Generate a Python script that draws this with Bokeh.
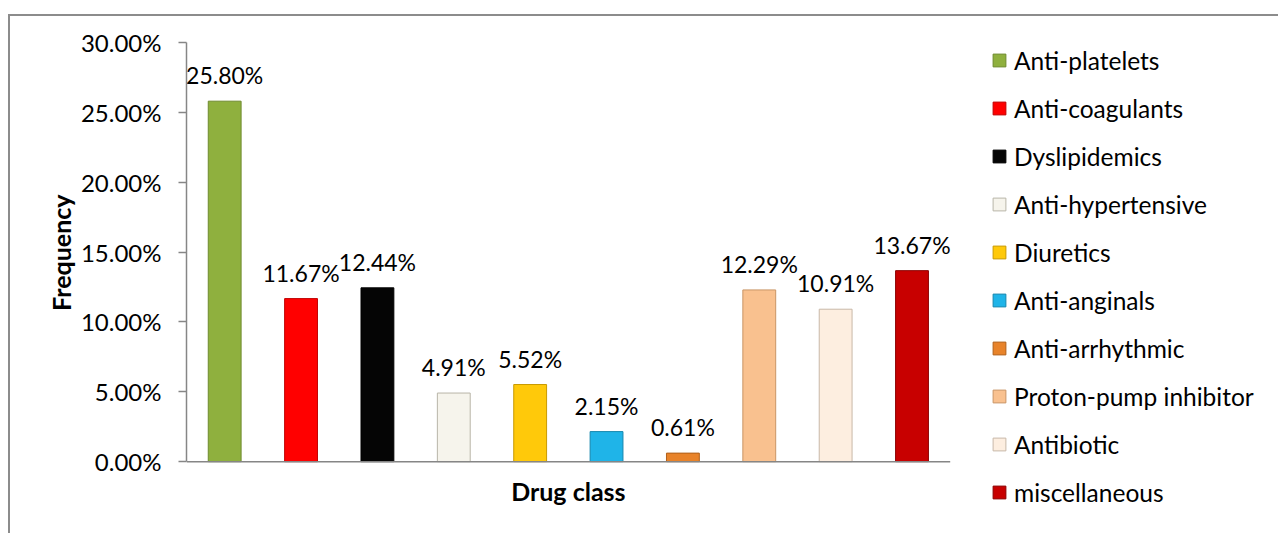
from bokeh.plotting import figure
from bokeh.models import (ColumnDataSource, Range1d, NumeralTickFormatter,
                          FixedTicker, Label, Title)
from bokeh.core.properties import value
from bokeh.embed import file_html
from bokeh.resources import INLINE

categories = ["Anti-platelets", "Anti-coagulants", "Dyslipidemics", "Anti-hypertensive",
              "Diuretics", "Anti-anginals", "Anti-arrhythmic", "Proton-pump inhibitor",
              "Antibiotic", "miscellaneous"]
frequency = [0.2580, 0.1167, 0.1244, 0.0491, 0.0552, 0.0215, 0.0061, 0.1229, 0.1091, 0.1367]
colors = ["#8fb03e", "#ff0000", "#050505", "#f6f4ec", "#ffc90a",
          "#1fb4e8", "#e8832a", "#f9c18f", "#fdeee0", "#c80000"]
line_colors = ["#6e8a2e", "#c00000", "#000000", "#b8b5a8", "#c99a00",
               "#1787ae", "#b0601a", "#c99566", "#c8b8a8", "#8c0000"]
y_ticks = [0.0, 0.05, 0.10, 0.15, 0.20, 0.25, 0.30]

N = len(categories)
xs = list(range(N))
labels = [f"{v*100:.2f}%" for v in frequency]
src = ColumnDataSource(dict(x=xs, cat=categories, val=frequency, color=colors,
                            line=line_colors, label=labels))

FONT = "Lato"
GRAY = "#868686"

# layout constants (pixels)
PITCH = 76.3          # width of one category slot
FRAME_W = 1093        # frame width from the y axis to the right edge

p = figure(width=1270, height=519, output_backend="svg", toolbar_location=None,
           x_range=Range1d(-0.5, -0.5 + FRAME_W / PITCH), y_range=Range1d(-0.05, 0.30),
           min_border_left=176, min_border_right=0, min_border_top=26, min_border_bottom=4)
p.margin = (14, 0, 0, 8)
p.styles = {"border-top": "2px solid #8c8c8c", "border-left": "2px solid #8c8c8c"}
p.outline_line_color = None
p.xgrid.visible = False
p.ygrid.visible = False
p.xaxis.visible = False

p.vbar(x="x", top="val", width=0.43, source=src, fill_color="color",
       line_color="line", line_width=1, legend_field="cat")

p.text(x="x", y="val", text="label", source=src, text_align="center",
       text_baseline="middle", y_offset=-26, text_font=value(FONT),
       text_font_size="23px", text_color="#000000")

# x axis baseline across the category slots
p.segment(x0=[-0.5], x1=[N - 0.5], y0=[0], y1=[0], line_color=GRAY, line_width=1.5)

# y axis
ya = p.yaxis[0]
ya.bounds = (y_ticks[0], y_ticks[-1])
ya.ticker = FixedTicker(ticks=y_ticks)
ya.formatter = NumeralTickFormatter(format="0.00%")
ya.axis_line_color = GRAY
ya.axis_line_width = 1.5
ya.major_tick_line_color = GRAY
ya.major_tick_line_width = 1.5
ya.minor_tick_line_color = None
ya.major_tick_in = 0
ya.major_tick_out = 8
ya.major_label_standoff = 17
ya.major_label_text_font = FONT
ya.major_label_text_font_size = "24px"
ya.major_label_text_color = "#000000"

ytitle = Title(text="Frequency", align="right", offset=152, standoff=3,
               text_font=FONT, text_font_style="bold", text_font_size="25px",
               text_color="#000000")
p.add_layout(ytitle, "left")

p.add_layout(Label(x=(N - 1) / 2, y=0, y_offset=-29, text="Drug class",
                   text_align="center", text_baseline="middle", text_font=FONT,
                   text_font_style="bold", text_font_size="25px", text_color="#000000"))

lg = p.legend[0]
lg.location = (805, 24)
lg.border_line_color = None
lg.background_fill_alpha = 0
lg.padding = 0
lg.margin = 0
lg.spacing = 18
lg.glyph_width = 16
lg.glyph_height = 16
lg.label_height = 30
lg.label_standoff = 7
lg.label_text_font = FONT
lg.label_text_font_size = "24.5px"
lg.label_text_color = "#000000"

open("out.html", "w").write(file_html(p, INLINE))
